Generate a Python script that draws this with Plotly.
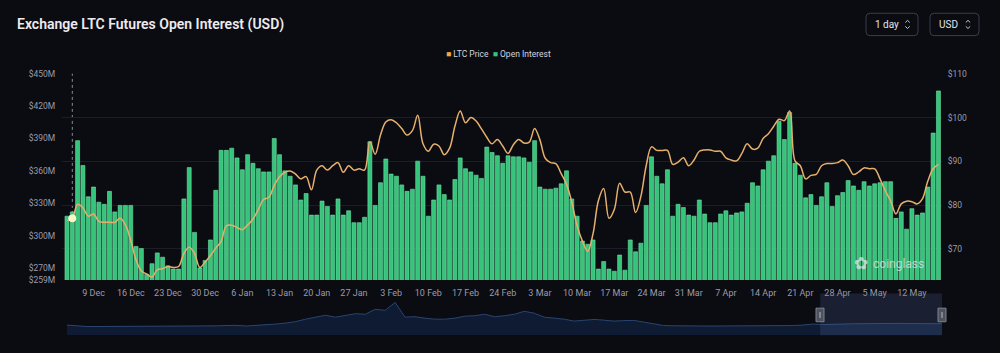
import pandas as pd
import plotly.graph_objects as go

W, H = 1000, 353

# ---------------- data ----------------
dates = pd.date_range("2024-12-04", "2025-05-17", freq="D")

open_interest_musd = [
    318, 322, 388, 365, 336, 345, 331, 329, 341, 322,
    328, 328, 328, 290, 288, 264, 274, 284, 280, 272,
    269, 269, 334, 363, 303, 270, 277, 296, 342, 379,
    379, 381, 372, 361, 375, 367, 362, 359, 359, 390,
    375, 360, 355, 347, 333, 339, 319, 319, 332, 327,
    319, 334, 319, 323, 312, 312, 317, 387, 328, 349,
    371, 357, 355, 347, 341, 343, 369, 355, 318, 333,
    347, 338, 333, 352, 372, 362, 359, 356, 353, 382,
    377, 374, 367, 374, 373, 373, 372, 368, 388, 345,
    343, 343, 344, 348, 360, 334, 318, 295, 292, 296,
    269, 276, 269, 267, 282, 268, 296, 285, 293, 328,
    373, 355, 348, 361, 318, 329, 326, 319, 318, 333,
    320, 312, 312, 320, 323, 319, 321, 322, 330, 349,
    346, 361, 369, 374, 406, 389, 414, 367, 356, 335,
    338, 328, 336, 349, 327, 337, 340, 351, 346, 342,
    350, 346, 348, 349, 350, 350, 316, 322, 306, 325,
    319, 321, 345, 395, 434,
]

ltc_price_usd = [
    76.5, 77.0, 80.2, 79.4, 77.5, 78.0, 76.3, 76.1, 76.1, 76.1,
    77.0, 75.5, 72.0, 67.5, 65.0, 64.3, 63.6, 65.3, 65.5, 66.0,
    65.8, 66.0, 69.0, 70.4, 69.0, 65.8, 67.0, 68.5, 70.2, 71.7,
    75.3, 75.4, 74.9, 74.4, 75.5, 76.8, 79.0, 81.3, 81.8, 84.5,
    86.5, 87.5, 87.8, 87.1, 86.0, 86.5, 83.5, 88.0, 89.0, 88.0,
    89.0, 89.7, 87.5, 89.0, 88.0, 88.3, 88.0, 94.5, 91.6, 96.0,
    99.0, 99.5, 98.8, 97.5, 96.0, 97.0, 100.5, 94.0, 92.3, 93.9,
    93.5, 91.5, 93.0, 98.0, 101.5, 98.8, 100.0, 99.2, 97.4, 95.5,
    94.0, 95.0, 93.5, 91.8, 93.8, 95.0, 94.2, 94.4, 97.5, 94.9,
    90.7, 89.7, 89.5, 87.2, 84.8, 80.7, 75.3, 71.8, 69.5, 73.5,
    81.0, 83.8, 77.0, 79.0, 85.0, 83.0, 83.0, 78.3, 82.0, 89.0,
    93.3, 92.5, 92.5, 92.5, 89.3, 89.8, 90.8, 89.0, 90.3, 92.3,
    92.6, 92.6, 92.3, 92.3, 90.8, 90.3, 90.1, 91.8, 94.0, 92.8,
    93.0, 95.2, 96.3, 98.0, 99.6, 99.3, 101.5, 90.1, 89.0, 86.0,
    86.8, 87.0, 89.0, 89.5, 89.5, 89.7, 90.3, 89.0, 87.0, 87.6,
    88.5, 88.3, 88.3, 86.0, 83.3, 81.0, 78.0, 80.3, 80.9, 80.8,
    80.3, 81.5, 85.5, 88.3, 89.3,
]

oi_tick_values = [259, 270, 300, 330, 360, 390, 420, 450]
oi_tick_labels = ["$259M", "$270M", "$300M", "$330M", "$360M", "$390M", "$420M", "$450M"]
price_tick_values = [70, 80, 90, 100, 110]
price_tick_labels = ["$70", "$80", "$90", "$100", "$110"]
x_tick_start = "2024-12-09"

# full-history open interest shown in the navigator (approx., $M)
nav_start = "2022-02-24"
nav_end = "2025-05-17"
nav_oi_musd = [
    302, 274, 259, 259, 259, 259, 265, 265, 265, 268,
    274, 274, 274, 274, 274, 279, 288, 294, 274, 288,
    302, 331, 360, 403, 475, 533, 590, 533, 576, 634,
    619, 763, 734, 965, 533, 547, 504, 475, 475, 504,
    562, 576, 619, 547, 576, 619, 706, 648, 533, 504,
    475, 418, 432, 467, 446, 418, 432, 438, 389, 331,
    288, 282, 274, 274, 274, 274, 274, 279, 274, 274,
    279, 279, 288, 288, 302, 331, 317, 317, 331, 340,
    346, 351, 360, 360, 351, 346, 346, 340, 340,
]
nav_dates = pd.date_range(nav_start, nav_end, periods=len(nav_oi_musd))

# ---------------- style ----------------
BG = "#0b0b12"
GREEN = "#36c47b"
GREEN_EDGE = "#6fe2a6"
ORANGE = "#e6b06c"
LEG_ORANGE = "#f0a843"
TXT = "#9c9ca8"
FONT = "Roboto"


def fx(px):
    return px / W


def fy(py):
    return 1 - py / H


x_left = pd.Timestamp("2024-12-03 01:30")
x_right = pd.Timestamp("2025-05-17 16:00")

fig = go.Figure()

fig.add_trace(go.Bar(
    x=dates, y=open_interest_musd, name="Open Interest",
    marker=dict(color=GREEN, line=dict(width=0.6, color=GREEN_EDGE)),
    xaxis="x", yaxis="y", showlegend=False, hoverinfo="skip",
))

fig.add_trace(go.Scatter(
    x=dates, y=ltc_price_usd, name="LTC Price", mode="lines",
    line=dict(color=ORANGE, width=1.5, shape="spline", smoothing=1.0),
    xaxis="x", yaxis="y2", showlegend=False, hoverinfo="skip",
))

# hovered point (crosshair marker)
hover_i = 1
fig.add_trace(go.Scatter(
    x=[dates[hover_i]], y=[ltc_price_usd[hover_i]], mode="markers",
    marker=dict(color="#fff4c2", size=7, line=dict(color="#fffbe6", width=1)),
    xaxis="x", yaxis="y2", showlegend=False, hoverinfo="skip",
))

# navigator
fig.add_trace(go.Scatter(
    x=nav_dates, y=nav_oi_musd, mode="lines", fill="tozeroy",
    line=dict(color="#2a4570", width=1), fillcolor="#0f1b32",
    xaxis="x2", yaxis="y3", showlegend=False, hoverinfo="skip",
))

main_dom_y = [fy(282.9), fy(70.7)]

fig.update_layout(
    width=W, height=H, autosize=False,
    margin=dict(l=0, r=0, t=0, b=0),
    paper_bgcolor=BG, plot_bgcolor=BG,
    bargap=0.25,
    font=dict(family=FONT, color=TXT, size=9),
    xaxis=dict(
        domain=[fx(62), fx(942)], anchor="y",
        type="date", range=[x_left, x_right],
        tick0=x_tick_start, dtick=7 * 24 * 3600 * 1000, tickformat="%-d %b",
        showgrid=False, zeroline=False, showline=False,
        ticks="outside", ticklen=4, tickcolor="rgba(0,0,0,0)",
        tickfont=dict(size=9, color=TXT, family=FONT),
    ),
    yaxis=dict(
        domain=main_dom_y, anchor="x",
        range=[259, 450], tickvals=oi_tick_values, ticktext=oi_tick_labels,
        showgrid=False, zeroline=False, showline=False,
        ticks="outside", ticklen=4, tickcolor="rgba(0,0,0,0)",
        tickfont=dict(size=8.5, color=TXT, family=FONT),
    ),
    yaxis2=dict(
        overlaying="y", side="right", anchor="x",
        range=[62.95, 110], tickvals=price_tick_values, ticktext=price_tick_labels,
        showgrid=True, gridcolor="#1d1d27", gridwidth=1,
        zeroline=False, showline=False,
        ticks="outside", ticklen=3, tickcolor="rgba(0,0,0,0)",
        tickfont=dict(size=8.5, color=TXT, family=FONT),
    ),
    xaxis2=dict(
        domain=[fx(67), fx(942)], anchor="y3", type="date",
        range=[nav_start, nav_end], visible=False, fixedrange=True,
    ),
    yaxis3=dict(
        domain=[fy(340), fy(297)], anchor="x2",
        range=[0, 1224], visible=False, fixedrange=True,
    ),
)

shapes = []
# crosshair
shapes.append(dict(
    type="line", xref="x", yref="paper",
    x0=dates[hover_i], x1=dates[hover_i], y0=main_dom_y[0], y1=main_dom_y[1],
    line=dict(color="#8a8a95", width=1, dash="dot"), layer="below",
))
# navigator selection
shapes.append(dict(
    type="rect", xref="x2", yref="paper",
    x0=dates[0], x1=nav_end, y0=fy(340), y1=fy(297),
    fillcolor="rgba(80,110,165,0.22)", line=dict(width=0), layer="above",
))
for hx in (820, 942):
    shapes.append(dict(
        type="rect", xref="paper", yref="paper",
        x0=fx(hx - 4), x1=fx(hx + 4), y0=fy(326), y1=fy(312),
        fillcolor="#4d525e", line=dict(color="#7d8290", width=1), layer="above",
    ))
    shapes.append(dict(
        type="line", xref="paper", yref="paper",
        x0=fx(hx), x1=fx(hx), y0=fy(322), y1=fy(316),
        line=dict(color="#b8bcc6", width=1), layer="above",
    ))


def rounded_rect(x0, y0, x1, y1, r):
    X0, X1 = fx(x0), fx(x1)
    Y0, Y1 = fy(y0), fy(y1)
    rx, ry = r / W, r / H
    return (f"M{X0+rx},{Y0} L{X1-rx},{Y0} Q{X1},{Y0} {X1},{Y0-ry} "
            f"L{X1},{Y1+ry} Q{X1},{Y1} {X1-rx},{Y1} L{X0+rx},{Y1} "
            f"Q{X0},{Y1} {X0},{Y1+ry} L{X0},{Y0-ry} Q{X0},{Y0} {X0+rx},{Y0} Z")


for (bx0, bx1, cx) in ((866, 918, 907.5), (930, 979, 968)):
    shapes.append(dict(
        type="path", xref="paper", yref="paper",
        path=rounded_rect(bx0, 8.5, bx1, 31.5, 4),
        line=dict(color="#3a3d4c", width=1), fillcolor="rgba(0,0,0,0)",
    ))
    # up / down chevrons
    shapes.append(dict(
        type="path", xref="paper", yref="paper",
        path=f"M{fx(cx-2.2)},{fy(18)} L{fx(cx)},{fy(15.8)} L{fx(cx+2.2)},{fy(18)}",
        line=dict(color="#c8c8d0", width=1),
    ))
    shapes.append(dict(
        type="path", xref="paper", yref="paper",
        path=f"M{fx(cx-2.2)},{fy(22)} L{fx(cx)},{fy(24.2)} L{fx(cx+2.2)},{fy(22)}",
        line=dict(color="#c8c8d0", width=1),
    ))

fig.update_layout(shapes=shapes)

annotations = [
    dict(text="Exchange LTC Futures Open Interest (USD)", xref="paper", yref="paper",
         x=fx(15), y=fy(20), xanchor="left", yanchor="middle", showarrow=False,
         font=dict(family=FONT, size=14, color="#ececf0", weight=600)),
    dict(text="1 day", xref="paper", yref="paper", x=fx(873), y=fy(20),
         xanchor="left", yanchor="middle", showarrow=False,
         font=dict(family=FONT, size=10, color="#e4e4ea")),
    dict(text="USD", xref="paper", yref="paper", x=fx(937), y=fy(20),
         xanchor="left", yanchor="middle", showarrow=False,
         font=dict(family=FONT, size=10, color="#e4e4ea")),
    dict(text=(f'<span style="color:{LEG_ORANGE}">■</span> LTC Price  '
               f'<span style="color:{GREEN}">■</span> Open Interest'),
         xref="paper", yref="paper", x=fx(498), y=fy(50),
         xanchor="center", yanchor="middle", showarrow=False,
         font=dict(family=FONT, size=8.5, color="#d4d4dc")),
    dict(text="✿", xref="paper", yref="paper", x=fx(861), y=fy(266),
         xanchor="center", yanchor="middle", showarrow=False,
         font=dict(family="DejaVu Sans", size=17, color="rgba(235,235,240,0.7)")),
    dict(text="coinglass", xref="paper", yref="paper", x=fx(871), y=fy(266.5),
         xanchor="left", yanchor="middle", showarrow=False,
         font=dict(family=FONT, size=12, color="rgba(235,235,240,0.7)")),
]
fig.update_layout(annotations=annotations)

fig.write_html("out.html")
